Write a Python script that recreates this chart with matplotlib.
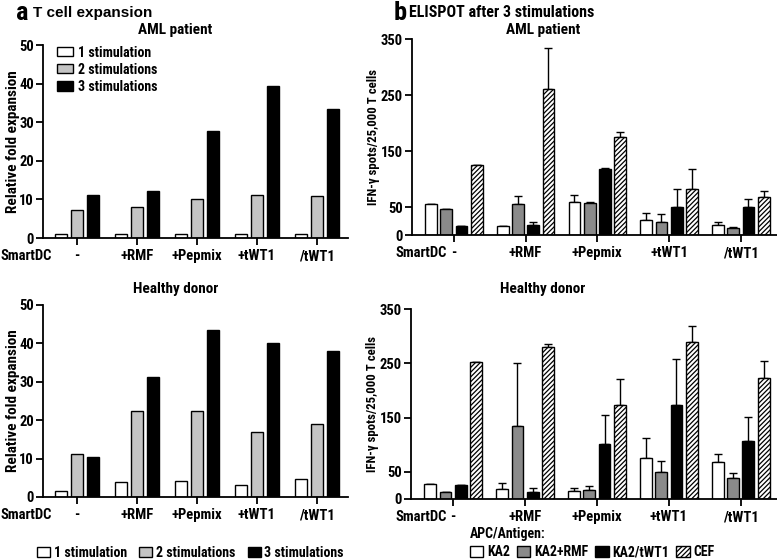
import numpy as np
import matplotlib
matplotlib.use("Agg")
import matplotlib.pyplot as plt
from matplotlib.patches import Patch
from matplotlib import font_manager
from matplotlib.transforms import ScaledTranslation

# narrow bold sans if there is one, else Liberation Sans
font_name = 'Liberation Sans'
for name in ['Liberation Sans Narrow', 'Arial Narrow', 'Roboto Condensed', 'Open Sans Condensed']:
    try:
        font_manager.findfont(font_manager.FontProperties(family=name, weight='bold'),
                              fallback_to_default=False)
        font_name = name
        break
    except Exception:
        pass
narrow = font_name != 'Liberation Sans'

plt.rcParams['font.family'] = [font_name, 'DejaVu Sans']
plt.rcParams['font.weight'] = 'bold'
plt.rcParams['hatch.linewidth'] = 0.9

## Data
groups_a = ['-', '+RMF', '+Pepmix', '+tWT1', '/tWT1']
groups_b = ['-', '+RMF', '+Pepmix', '+tWT1', '/tWT1']
stim_labels = ['1 stimulation', '2 stimulations', '3 stimulations']
apc_labels = ['KA2', 'KA2+RMF', 'KA2/tWT1', 'CEF']

# panel a: relative fold expansion
aml_stim1 = [1.0, 1.0, 1.0, 1.0, 1.0]
aml_stim2 = [7.3, 8.0, 10.0, 11.2, 10.9]
aml_stim3 = [11.1, 12.1, 27.7, 39.5, 33.5]
hd_stim1 = [1.5, 4.0, 4.2, 3.0, 4.8]
hd_stim2 = [11.2, 22.5, 22.5, 17.0, 18.9]
hd_stim3 = [10.3, 31.3, 43.6, 40.1, 38.1]

# panel b: IFN-g spots (mean, upper error)
aml_ka2 = [55, 17, 60, 27, 18.5]
aml_ka2_err = [0, 0, 11.5, 13.5, 5.5]
aml_rmf = [46, 55.5, 58, 22.7, 13]
aml_rmf_err = [0, 14.5, 0.8, 15, 2.5]
aml_twt1 = [17, 19, 118, 50, 49.5]
aml_twt1_err = [0, 4, 2.5, 32, 14.5]
aml_cef = [125, 260.5, 176, 83, 68]
aml_cef_err = [0, 73.5, 7.5, 34.5, 10.7]

hd_ka2 = [28, 19, 14, 75.5, 67.5]
hd_ka2_err = [0, 10.5, 5.6, 37.5, 16]
hd_rmf = [13.5, 135, 17, 49, 39.3]
hd_rmf_err = [0, 115.5, 7.5, 21.6, 8.7]
hd_twt1 = [25.8, 12.3, 100.7, 174, 107]
hd_twt1_err = [0, 7.7, 53.3, 84.5, 43.4]
hd_cef = [253, 280.5, 173, 289, 223]
hd_cef_err = [0, 4.5, 48.6, 29, 31.8]

stim_colors = ['white', '#c4c4c4', 'black']
apc_colors = ['white', '#8a8a8a', 'black', 'white']
apc_hatch = [None, None, None, '///////']

if narrow:
    fs_x, fs_y, fs_leg, fs_t = 10.5, 10.5, 10, 11
    fs_lab_a, fs_lab_b = 11, 9.2
else:
    fs_x, fs_y, fs_leg, fs_t = 9, 9, 8.5, 9.5
    fs_lab_a, fs_lab_b = 9, 7.8

fig = plt.figure(figsize=(7.77, 5.6), dpi=100)


def style_axes(ax):
    for s in ['top', 'right']:
        ax.spines[s].set_visible(False)
    for s in ['left', 'bottom']:
        ax.spines[s].set_linewidth(1.3)
    ax.tick_params(width=1.3, length=5)
    ax.tick_params(axis='x', pad=3, labelsize=fs_x)
    ax.tick_params(axis='y', pad=1.5, labelsize=fs_y)
    for lbl in ax.get_xticklabels() + ax.get_yticklabels():
        lbl.set_fontweight('bold')


def smartdc_label(ax, x, ha):
    # same baseline as the x tick labels (tick length + pad = 8 pt)
    trans = ax.transAxes + ScaledTranslation(0, -8 / 72, fig.dpi_scale_trans)
    ax.text(x, 0, 'SmartDC', transform=trans, ha=ha, va='top',
            fontsize=fs_x, fontweight='bold')


def panel_a(rect, s1, s2, s3, legend):
    ax = fig.add_axes(rect)
    x = np.arange(len(groups_a))
    off = 0.27
    w = 0.2
    for i, vals in enumerate([s1, s2, s3]):
        ax.bar(x + (i - 1) * off, vals, w, color=stim_colors[i], edgecolor='black',
               linewidth=1.0, label=stim_labels[i])
    ax.set_xlim(-0.57, 4.52)
    ax.set_ylim(0, 50)
    ax.set_yticks([0, 10, 20, 30, 40, 50])
    ax.set_xticks(x)
    ax.set_xticklabels(groups_a)
    ax.set_ylabel('Relative fold expansion', fontsize=fs_lab_a, fontweight='bold')
    ax.yaxis.set_label_coords(-0.075, 0.5)
    style_axes(ax)
    smartdc_label(ax, -0.14, 'left')
    if legend:
        ax.legend(loc='upper left', bbox_to_anchor=(0.02, 1.04), frameon=False,
                  fontsize=fs_leg, handlelength=1.15, handleheight=0.65,
                  handletextpad=0.35, labelspacing=0.22, borderaxespad=0.2)
    return ax


def panel_b(rect, series, errs):
    ax = fig.add_axes(rect)
    x = np.arange(len(groups_b))
    off = 0.213
    w = 0.163
    for i, (vals, err) in enumerate(zip(series, errs)):
        pos = x + (i - 1.5) * off
        ax.bar(pos, vals, w, color=apc_colors[i], edgecolor='black', linewidth=1.0,
               hatch=apc_hatch[i], zorder=2)
        err = np.array(err, dtype=float)
        ax.errorbar(pos, vals, yerr=[np.zeros_like(err), err], fmt='none',
                    ecolor='black', elinewidth=1.0, capsize=3, capthick=1.0, zorder=1)
    ax.set_xlim(-0.586, 4.505)
    ax.set_ylim(0, 350)
    ax.set_yticks([0, 50, 150, 250, 350])
    ax.set_xticks(x)
    ax.set_xticklabels(groups_b)
    ax.set_ylabel('IFN-\u03b3 spots/25,000 T cells', fontsize=fs_lab_b, fontweight='bold')
    ax.yaxis.set_label_coords(-0.088, 0.5)
    style_axes(ax)
    smartdc_label(ax, 0.097, 'right')
    return ax


ax1 = panel_a([0.0553, 0.575, 0.3925, 0.3446], aml_stim1, aml_stim2, aml_stim3, True)
ax2 = panel_a([0.0553, 0.1125, 0.3925, 0.343], hd_stim1, hd_stim2, hd_stim3, False)
ax3 = panel_b([0.530, 0.580, 0.470, 0.350],
              [aml_ka2, aml_rmf, aml_twt1, aml_cef],
              [aml_ka2_err, aml_rmf_err, aml_twt1_err, aml_cef_err])
ax4 = panel_b([0.529, 0.109, 0.471, 0.339],
              [hd_ka2, hd_rmf, hd_twt1, hd_cef],
              [hd_ka2_err, hd_rmf_err, hd_twt1_err, hd_cef_err])

# titles
fig.text(0.021, 0.977, 'a', fontsize=19, fontweight='bold', va='center')
fig.text(0.042, 0.977, 'T cell expansion', fontsize=11, fontweight='bold', va='center',
         family=['Liberation Sans', 'DejaVu Sans'])
fig.text(0.507, 0.977, 'b', fontsize=19, fontweight='bold', va='center')
fig.text(0.527, 0.977, 'ELISPOT after 3 stimulations', fontsize=11.5, fontweight='bold', va='center')
fig.text(0.226, 0.947, 'AML patient', fontsize=fs_t, fontweight='bold', ha='center', va='center')
fig.text(0.699, 0.947, 'AML patient', fontsize=fs_t, fontweight='bold', ha='center', va='center')
fig.text(0.226, 0.484, 'Healthy donor', fontsize=fs_t, fontweight='bold', ha='center', va='center')
fig.text(0.699, 0.484, 'Healthy donor', fontsize=fs_t, fontweight='bold', ha='center', va='center')

# bottom legends
stim_handles = [Patch(facecolor=c, edgecolor='black', linewidth=1.0) for c in stim_colors]
fig.legend(stim_handles, stim_labels, loc='center', bbox_to_anchor=(0.245, 0.013),
           ncol=3, frameon=False, fontsize=fs_leg, handlelength=0.95, handleheight=0.75,
           handletextpad=0.25, columnspacing=0.9)

apc_handles = [Patch(facecolor=apc_colors[i], edgecolor='black', linewidth=1.0,
                     hatch=apc_hatch[i]) for i in range(4)]
fig.legend(apc_handles, apc_labels, loc='center left', bbox_to_anchor=(0.592, 0.03),
           ncol=4, frameon=False, fontsize=fs_leg, handlelength=0.95, handleheight=0.75,
           handletextpad=0.3, columnspacing=0.5, title='APC/Antigen:',
           title_fontproperties={'weight': 'bold', 'size': fs_leg}, alignment='left',
           borderpad=0.2, labelspacing=0.3)

fig.savefig('out.png', dpi=100)
